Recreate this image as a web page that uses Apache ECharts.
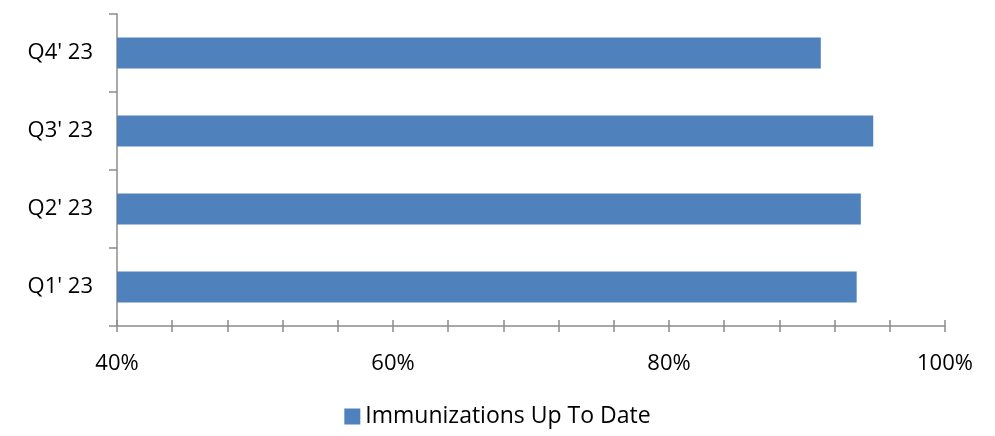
<!DOCTYPE html>
<html><head><meta charset="utf-8">
<script src="https://cdn.jsdelivr.net/npm/echarts@6/dist/echarts.min.js"></script>
<style>html,body{margin:0;padding:0;background:#fff}#c{width:995px;height:436px}</style>
</head><body><div id="c"></div>
<script>
const categories = ["Q1' 23", "Q2' 23", "Q3' 23", "Q4' 23"];
const seriesName = "Immunizations Up To Date";
const values = [93.6, 93.9, 94.8, 91.0];
const xLabels = [40, 60, 80, 100];

const font = "'Open Sans', 'Noto Sans', sans-serif";
const axisColor = '#8c8c8c';
const chart = echarts.init(document.getElementById('c'));
chart.setOption({
  animation: false,
  textStyle: { fontFamily: font },
  grid: { left: 117, right: 50, top: 14, bottom: 110, containLabel: false },
  xAxis: [{
    type: 'value', min: 40, max: 100, interval: 4,
    axisLine: { show: true, lineStyle: { color: axisColor, width: 1.5 } },
    axisTick: { show: true, length: 6, lineStyle: { color: axisColor, width: 1.5 } },
    splitLine: { show: false },
    axisLabel: {
      margin: 27, fontSize: 22, color: '#000', fontFamily: font,
      formatter: v => xLabels.indexOf(Math.round(v)) >= 0 ? Math.round(v) + '%' : ''
    }
  }, {
    type: 'value', min: 40, max: 100, interval: 4, position: 'bottom',
    axisLine: { show: false },
    axisTick: { show: true, inside: true, length: 6, lineStyle: { color: axisColor, width: 1.5 } },
    splitLine: { show: false }, axisLabel: { show: false }
  }],
  yAxis: {
    type: 'category', data: categories,
    axisLine: { show: true, lineStyle: { color: axisColor, width: 1.5 } },
    axisTick: { show: true, length: 8, lineStyle: { color: axisColor, width: 1.5 } },
    axisLabel: { margin: 24, fontSize: 22, color: '#000', fontFamily: font }
  },
  legend: {
    bottom: 3, left: 'center', itemWidth: 16, itemHeight: 16, itemGap: 6,
    textStyle: { fontSize: 23, color: '#000', fontFamily: font },
    data: [{ name: seriesName, icon: 'rect' }]
  },
  series: [{
    name: seriesName, type: 'bar', data: values, barWidth: 31,
    itemStyle: { color: '#4F81BD' }
  }]
});
</script></body></html>
